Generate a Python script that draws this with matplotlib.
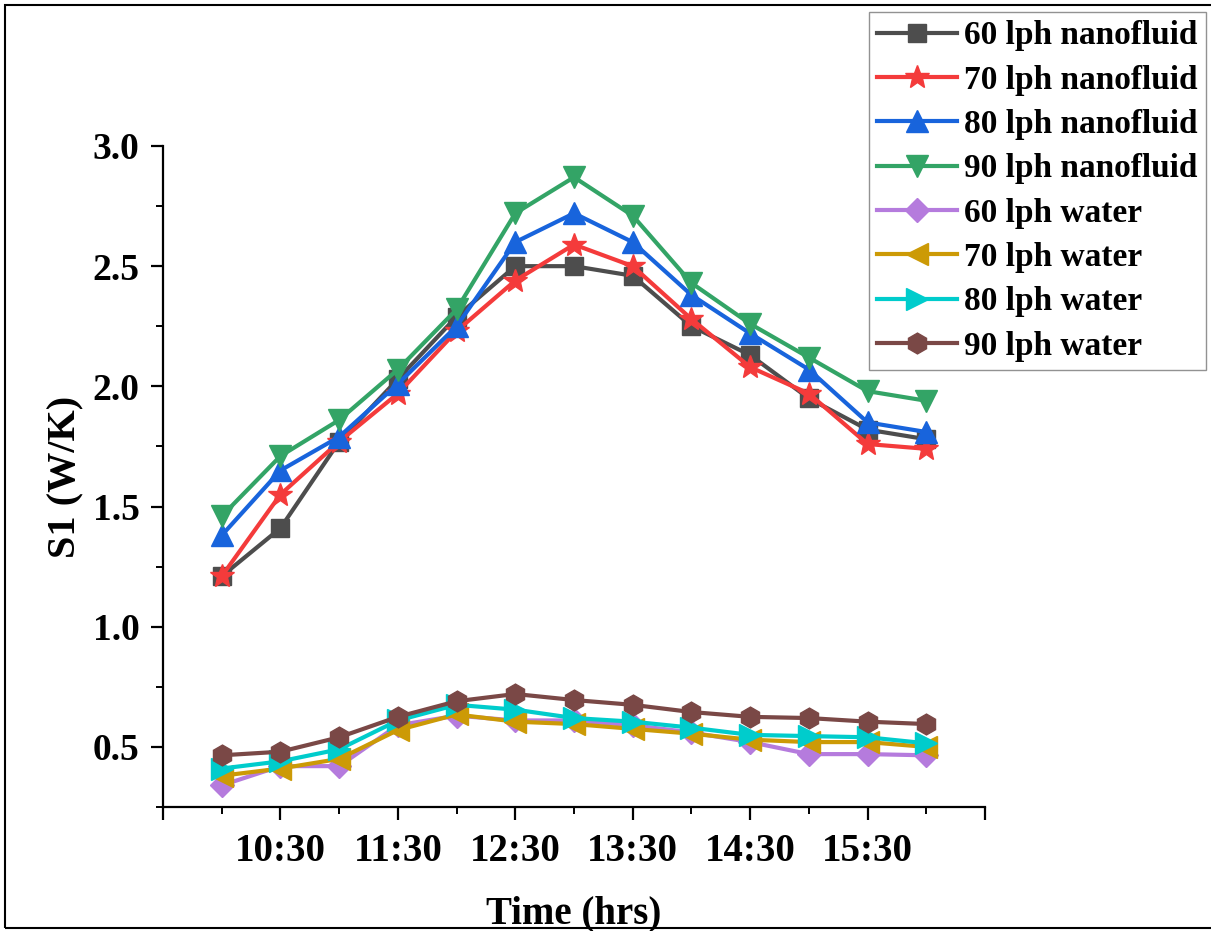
import matplotlib
matplotlib.use("Agg")
import matplotlib.pyplot as plt
from matplotlib.patches import Rectangle
from matplotlib.ticker import MultipleLocator, FixedLocator

# time of day for each reading
times = ["10:00", "10:30", "11:00", "11:30", "12:00", "12:30", "13:00",
         "13:30", "14:00", "14:30", "15:00", "15:30", "16:00"]

nf60 = [1.21, 1.41, 1.77, 2.03, 2.29, 2.50, 2.50, 2.46, 2.25, 2.13, 1.95, 1.82, 1.78]
nf70 = [1.21, 1.55, 1.77, 1.97, 2.23, 2.44, 2.59, 2.50, 2.28, 2.08, 1.97, 1.76, 1.74]
nf80 = [1.38, 1.65, 1.79, 2.01, 2.25, 2.60, 2.72, 2.60, 2.38, 2.22, 2.07, 1.85, 1.81]
nf90 = [1.46, 1.71, 1.86, 2.07, 2.32, 2.72, 2.87, 2.71, 2.43, 2.26, 2.12, 1.98, 1.94]
w60 = [0.34, 0.42, 0.42, 0.59, 0.63, 0.61, 0.61, 0.59, 0.56, 0.52, 0.47, 0.47, 0.465]
w70 = [0.38, 0.41, 0.45, 0.57, 0.635, 0.605, 0.595, 0.575, 0.555, 0.53, 0.52, 0.52, 0.50]
w80 = [0.41, 0.44, 0.49, 0.61, 0.675, 0.655, 0.62, 0.605, 0.58, 0.55, 0.545, 0.54, 0.515]
w90 = [0.465, 0.48, 0.54, 0.625, 0.69, 0.72, 0.695, 0.675, 0.645, 0.625, 0.62, 0.605, 0.595]

labels = ["60 lph nanofluid", "70 lph nanofluid", "80 lph nanofluid", "90 lph nanofluid",
          "60 lph water", "70 lph water", "80 lph water", "90 lph water"]
series = [nf60, nf70, nf80, nf90, w60, w70, w80, w90]
colors = ["#4d4d4d", "#f43b3b", "#1864dc", "#33a466",
          "#b57bdd", "#cc9a06", "#00cccc", "#7a4846"]
markers = ["s", "*", "^", "v", "D", "<", ">", "h"]
msizes = [13, 18, 16, 16, 12, 16, 16, 15]

hours = [int(t.split(":")[0]) + int(t.split(":")[1]) / 60 for t in times]

plt.rcParams["font.family"] = ["Liberation Serif", "DejaVu Serif"]
plt.rcParams["font.weight"] = "bold"

fig = plt.figure(figsize=(12.11, 9.31), dpi=100)
ax = fig.add_axes([0.1346, 0.1332, 0.6788, 0.71])

for y, c, m, ms, lab in zip(series, colors, markers, msizes, labels):
    ax.plot(hours, y, color=c, marker=m, markersize=ms, linewidth=3.0, label=lab)

ax.set_xlim(9.5, 16.5)
ax.set_ylim(0.25, 3.0)
ax.spines["top"].set_visible(False)
ax.spines["right"].set_visible(False)
for s in ["left", "bottom"]:
    ax.spines[s].set_linewidth(1.6)

major_x = [9.5 + i for i in range(8)]
ax.xaxis.set_major_locator(FixedLocator(major_x))
ax.set_xticklabels(["" if (x < 10 or x > 16) else "%d:30" % int(x) for x in major_x])
ax.xaxis.set_minor_locator(MultipleLocator(0.5))
ax.yaxis.set_major_locator(FixedLocator([0.5, 1.0, 1.5, 2.0, 2.5, 3.0]))
ax.yaxis.set_minor_locator(MultipleLocator(0.25))
ax.tick_params(which="major", direction="out", length=9, width=1.6, pad=10)
ax.tick_params(axis="x", labelsize=28)
ax.tick_params(axis="y", labelsize=27, pad=8)
ax.tick_params(which="minor", direction="out", length=5, width=1.4)

ax.set_xlabel("Time (hrs)", fontsize=28, fontweight="bold", labelpad=18)
ax.set_ylabel("S1 (W/K)", fontsize=29, fontweight="bold", labelpad=6)

leg = ax.legend(loc="upper right", fontsize=24, handlelength=2.4, handletextpad=0.2,
                labelspacing=0.4, borderpad=0.25, frameon=True, fancybox=False,
                borderaxespad=0)
leg.set_bbox_to_anchor((1206 / 1211, 1 - 12 / 931), transform=fig.transFigure)
leg.get_frame().set_edgecolor("#777777")
leg.get_frame().set_linewidth(1.0)

fig.patches.append(Rectangle((5 / 1211, 3 / 931), 1.0, 1 - 8 / 931, transform=fig.transFigure,
                             fill=False, edgecolor="black", linewidth=1.5, clip_on=False))

fig.savefig("out.png", dpi=100)
